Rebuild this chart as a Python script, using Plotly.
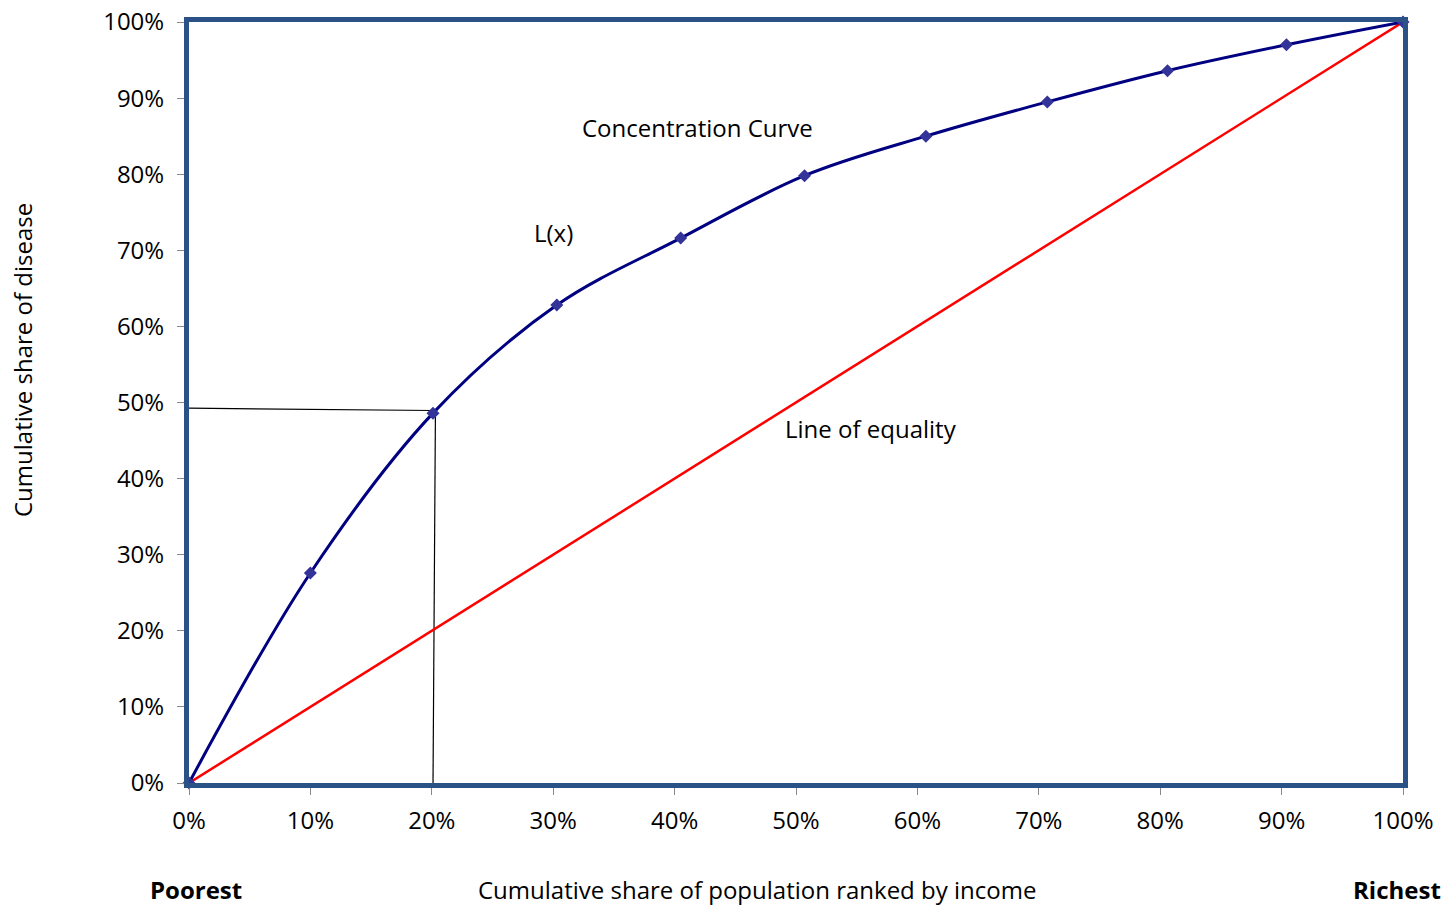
import plotly.graph_objects as go

# Data
pop_share = [0.0, 0.10, 0.201, 0.303, 0.405, 0.507, 0.607, 0.707, 0.806, 0.904, 1.0]
disease_share = [0.0, 0.276, 0.486, 0.628, 0.716, 0.798, 0.850, 0.895, 0.936, 0.970, 1.0]
equality_x = [0.0, 1.0]
equality_y = [0.0, 1.0]
guide_h_x = [0.0, 0.201]
guide_h_y = [0.4925, 0.4895]
guide_v_x = [0.203, 0.201]
guide_v_y = [0.4895, 0.0]
tick_vals = [i / 10 for i in range(11)]
tick_text = [f"{i*10}%" for i in range(11)]

FONT = "Open Sans, Noto Sans, sans-serif"
FS = 24

fig = go.Figure()
fig.add_trace(go.Scatter(x=guide_h_x, y=guide_h_y, mode="lines",
                         line=dict(color="black", width=1.2), hoverinfo="skip", cliponaxis=False))
fig.add_trace(go.Scatter(x=guide_v_x, y=guide_v_y, mode="lines",
                         line=dict(color="black", width=1.2), hoverinfo="skip", cliponaxis=False))
fig.add_trace(go.Scatter(x=equality_x, y=equality_y, mode="lines",
                         line=dict(color="#FF0000", width=2.5), cliponaxis=False))
fig.add_trace(go.Scatter(x=pop_share, y=disease_share, mode="lines+markers",
                         line=dict(color="#000080", width=3, shape="spline", smoothing=1.0),
                         marker=dict(symbol="diamond", size=10, color="#333399"),
                         cliponaxis=False))

L, R, T, B = 189, 39, 22, 124
W, H = 1442, 907
pw, ph = W - L - R, H - T - B

def px_to_paper(x, y):
    return (x - L) / pw, (H - B - y) / ph

anns = []
for (xv, yv, txt) in [(0.419, 0.861, "Concentration Curve"),
                      (0.300, 0.723, "L(x)"),
                      (0.562, 0.466, "Line of equality")]:
    anns.append(dict(x=xv, y=yv, xref="x", yref="y", text=txt, showarrow=False,
                     xanchor="center", yanchor="middle",
                     font=dict(family=FONT, size=FS, color="black")))

for (px, py, txt, ang) in [(196, 889, "<b>Poorest</b>", 0),
                           (1397, 889, "<b>Richest</b>", 0),
                           (757, 889, "Cumulative share of population ranked by income", 0),
                           (22, 360, "Cumulative share of disease", -90)]:
    xp, yp = px_to_paper(px, py)
    anns.append(dict(x=xp, y=yp, xref="paper", yref="paper", text=txt, showarrow=False,
                     xanchor="center", yanchor="middle", textangle=ang,
                     font=dict(family=FONT, size=FS, color="black")))

axis_common = dict(range=[0, 1], tickvals=tick_vals, ticktext=tick_text, showgrid=False,
                   zeroline=False, showline=True, linecolor="#2B5286", linewidth=5, mirror=True,
                   ticks="outside", ticklen=7, tickcolor="#888888", tickwidth=1,
                   automargin=False,
                   tickfont=dict(family=FONT, size=FS, color="black"))

fig.update_layout(
    width=W, height=H,
    margin=dict(l=L, r=R, t=T, b=B, autoexpand=False),
    paper_bgcolor="white", plot_bgcolor="white",
    showlegend=False,
    font=dict(family=FONT, size=FS, color="black"),
    annotations=anns,
    xaxis=dict(axis_common, ticklabelstandoff=5),
    yaxis=dict(axis_common, ticklabelstandoff=8),
)

fig.write_html("out.html", config={"displayModeBar": False},
               post_script="document.body.style.margin='0';document.body.style.overflow='hidden';")
